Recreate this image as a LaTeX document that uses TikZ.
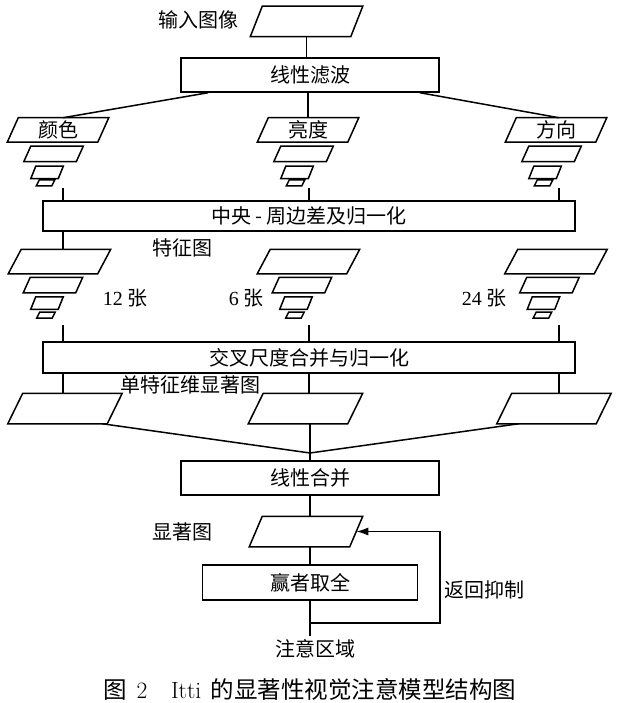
\documentclass[tikz,border=0pt]{standalone}
\usepackage{fontspec}
\newfontfamily\cjk{Noto Sans CJK SC}
\newfontfamily\chiffre{Liberation Serif}
\usepackage{tikz}
\usetikzlibrary{arrows.meta}

% parallélogramme tracé autour d'un noeud (nom, décalage)
\newcommand{\contour}[2]{\draw ([xshift=#2pt]#1.north west) -- (#1.north east)
  -- ([xshift=-#2pt]#1.south east) -- (#1.south west) -- cycle;}

\tikzset{
  boite/.style={draw, inner sep=0pt, minimum width=258pt, minimum height=34pt},
  plan/.style={inner sep=0pt},
}

\begin{document}
\begin{tikzpicture}[x=1pt, y=-1pt, line width=1.5pt,
  every node/.style={font=\cjk\fontsize{20pt}{24pt}\selectfont}] % une unité = un pixel
\useasboundingbox (0,0) rectangle (620,703);

% Image d'entrée et filtrage
\node (srtx) at (198,20) {输入图像};
\node[plan, minimum width=111pt, minimum height=29pt] (sr) at (306.5,21.5) {};
\contour{sr}{12}
\node[boite] (lb) at (310,75) {线性滤波};
\draw (sr.south) -- (sr.south |- lb.north);

% Les trois canaux et leurs pyramides
\foreach \nm/\cx/\wz in {ys/58/颜色, ld/308/亮度, fx/556/方向}{
  \node[plan, minimum width=100pt, minimum height=23pt] (\nm) at (\cx,130) {\wz};
  \node[plan, minimum width=58pt, minimum height=14pt] (\nm2) at (\cx-4.5,154) {};
  \node[plan, minimum width=31pt, minimum height=11pt] (\nm3) at (\cx-11,172.5) {};
  \node[plan, minimum width=17pt, minimum height=4.5pt] (\nm4) at (\cx-12.5,183) {};
  \contour{\nm}{11} \contour{\nm2}{7} \contour{\nm3}{5} \contour{\nm4}{3}
}
\draw ([xshift=-102pt]lb.south) -- ([xshift=5pt]ys.north);
\draw (ld.north |- lb.south) -- (ld.north);
\draw ([xshift=110pt]lb.south) -- ([xshift=3pt]fx.north);

% Différence centre - périphérie
\node[boite, minimum width=532pt, minimum height=30pt] (zy) at (309,216) {中央\ -\ 周边差及归一化};
\foreach \xx in {63,309,559}{
  \coordinate (h\xx) at (\xx,188);
  \draw (h\xx) -- (h\xx |- zy.north);
}

% Cartes de caractéristiques
\node (tztx) at (182,248) {特征图};
\foreach \nm/\cx in {ta/59.5, tb/308.5, tc/556}{
  \node[plan, minimum width=101pt, minimum height=23pt] (\nm) at (\cx,261.5) {};
  \node[plan, minimum width=58pt, minimum height=14pt] (\nm2) at (\cx-6.5,285) {};
  \node[plan, minimum width=31pt, minimum height=11pt] (\nm3) at (\cx-12.5,303) {};
  \node[plan, minimum width=17pt, minimum height=4.5pt] (\nm4) at (\cx-13.5,315) {};
  \contour{\nm}{13} \contour{\nm2}{7} \contour{\nm3}{5} \contour{\nm4}{3}
}
\draw (h63 |- zy.south) -- (h63 |- ta.north);
\node (n12) at (125,298) {{\chiffre 12}\ 张};
\node (n6) at (246,298) {{\chiffre 6}\ 张};
\node (n24) at (484,298) {{\chiffre 24}\ 张};

% Cartes de saillance par caractéristique
\foreach \nm/\cx in {xa/65, xb/305.5, xc/554}{
  \node[plan, minimum width=113pt, minimum height=29pt] (\nm) at (\cx,408.5) {};
  \contour{\nm}{15}
}
\node (dtz) at (190,385) {单特征维显著图};

% Combinaison inter-échelles
\node[boite, minimum width=532pt, minimum height=31pt] (jc) at (309,357.5) {交叉尺度合并与归一化};
\foreach \xx in {63,309,559}{
  \coordinate (b\xx) at (\xx,325);
  \draw (b\xx) -- (b\xx |- jc.north);
  \draw (b\xx |- jc.south) -- (b\xx |- xa.north);
}

% Combinaison linéaire
\node[boite] (xh) at (310,478) {线性合并};
\coordinate (hj) at (310,453);
\draw ([xshift=-20pt]xa.south east) -- (hj) -- ([xshift=22pt]xc.south west);
\draw (hj |- xb.south) -- (hj |- xh.north);

% Carte de saillance et sélection
\node[plan, minimum width=112pt, minimum height=29pt] (xz) at (306,531.5) {};
\contour{xz}{13}
\node (xztx) at (182,532) {显著图};
\node[boite, minimum width=215pt, minimum height=35pt] (yz) at (310,582.5) {赢者取全};
\node (zyqy) at (315,649) {注意区域};
\draw (xh.south) -- (xh.south |- xz.north);
\draw (xh.south |- xz.south) -- (yz.north);
\draw (yz.south) -- (yz.south |- zyqy.north);

% Inhibition de retour
\coordinate (fk) at (440,623);
\draw[-{Latex[length=12pt,width=8pt]}] (yz.south |- fk) -- (fk) -- (fk |- xz.east) -- ([xshift=-6.5pt]xz.east);
\node (fhyz) at (484,590) {返回抑制};

% Légende
\node[font=\cjk\fontsize{23.5pt}{28pt}\selectfont] (tt) at (310,690)
  {图\hspace{0.4em}{\rmfamily 2}\hspace{1em}{\rmfamily Itti}\hspace{0.4em}的显著性视觉注意模型结构图};
\end{tikzpicture}
\end{document}
